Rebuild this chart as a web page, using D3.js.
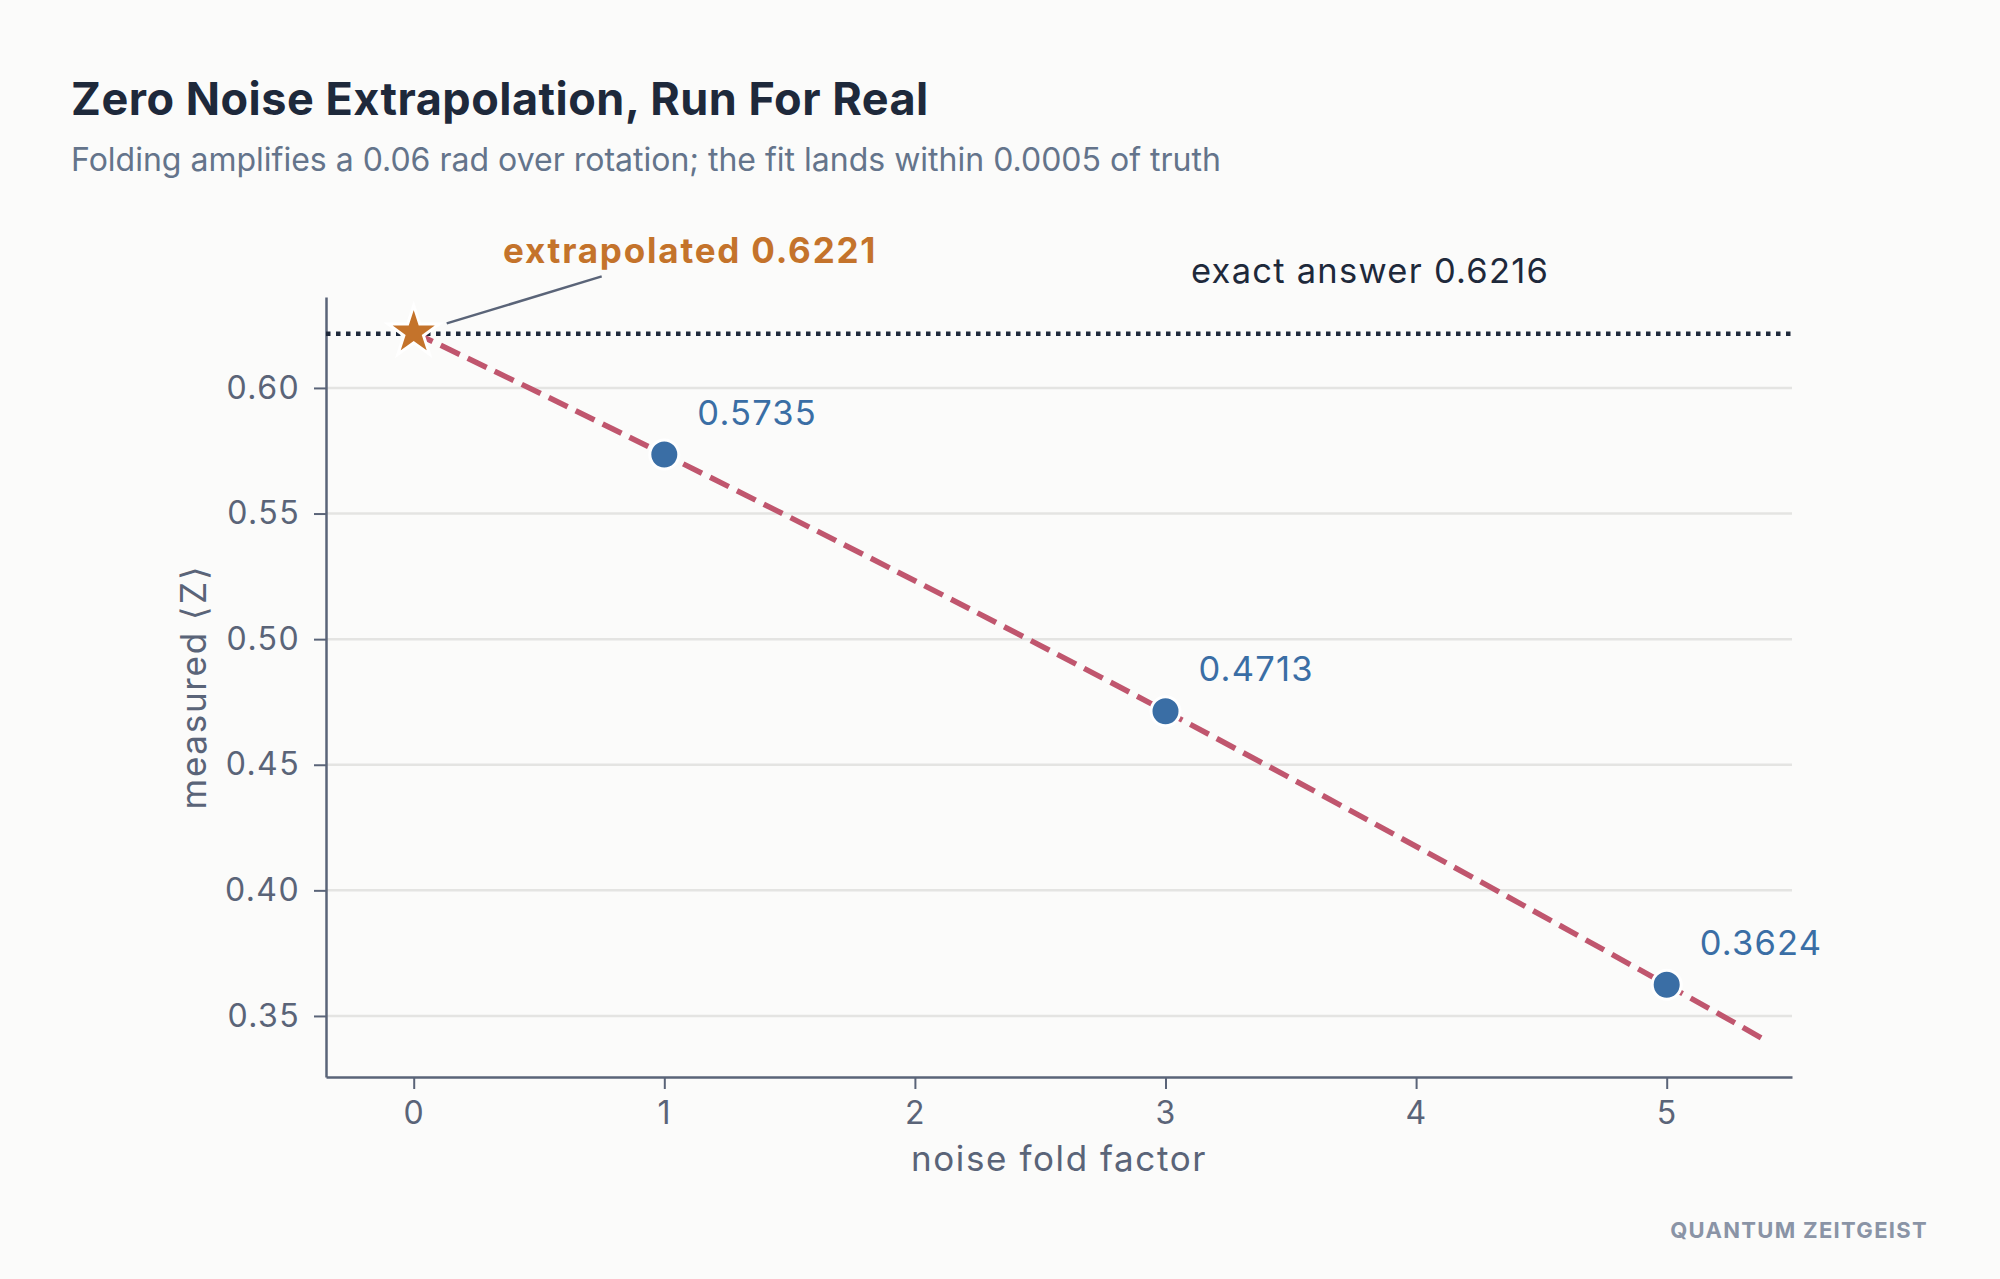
<!DOCTYPE html>
<html>
<head>
<meta charset="utf-8">
<script src="https://cdn.jsdelivr.net/npm/d3@7"></script>
<style>
  html, body { margin: 0; padding: 0; background: #fbfbfa; }
  svg { display: block; font-family: Inter, "Noto Sans", sans-serif; }
</style>
</head>
<body>
<svg id="chart" width="2000" height="1279"></svg>
<script>
// measured points
const foldFactors = [1, 3, 5];
const measured = [0.5735, 0.4713, 0.3624];

// fitted curve (passes through the points)
const fitX = [0, 1, 3, 5, 5.4];
const fitY = [0.6221, 0.5735, 0.4713, 0.3624, 0.3398];

const extrapolated = { x: 0, y: 0.6221 };
const exactAnswer = 0.6216;

const xTicks = [0, 1, 2, 3, 4, 5];
const yTicks = [0.35, 0.40, 0.45, 0.50, 0.55, 0.60];

const svg = d3.select("#chart");
const W = 2000, H = 1279;
const margin = { left: 326, right: 2000 - 1792, top: 297, bottom: 1279 - 1077 };

svg.append("rect").attr("width", W).attr("height", H).attr("fill", "#fbfbfa");

const x = d3.scaleLinear().domain([-0.35, 5.5]).range([margin.left, W - margin.right]);
const y = d3.scaleLinear().domain([0.3257, 0.6362]).range([H - margin.bottom, margin.top]);

const axisColor = "#5a6478";

// title block
svg.append("text")
    .attr("x", 71).attr("y", 115)
    .attr("fill", "#1e293b")
    .style("font-size", "45px")
    .style("font-weight", "700")
    .style("letter-spacing", "0.5px")
    .text("Zero Noise Extrapolation, Run For Real");

svg.append("text")
    .attr("x", 71).attr("y", 171)
    .attr("fill", "#64748b")
    .style("font-size", "32px")
    .text("Folding amplifies a 0.06 rad over rotation; the fit lands within 0.0005 of truth");

// grid
svg.append("g")
    .selectAll("line")
    .data(yTicks)
    .join("line")
    .attr("x1", x.range()[0]).attr("x2", x.range()[1])
    .attr("y1", d => y(d)).attr("y2", d => y(d))
    .attr("stroke", "#e4e4e2")
    .attr("stroke-width", 2.5);

// axes
const xAxis = svg.append("g")
    .attr("transform", `translate(0,${y.range()[0]})`)
    .call(d3.axisBottom(x).tickValues(xTicks).tickFormat(d3.format("d")).tickSize(12).tickPadding(12).tickSizeOuter(0));
const yAxis = svg.append("g")
    .attr("transform", `translate(${x.range()[0]},0)`)
    .call(d3.axisLeft(y).tickValues(yTicks).tickFormat(d3.format(".2f")).tickSize(12).tickPadding(14).tickSizeOuter(0));

[xAxis, yAxis].forEach(g => {
    g.select(".domain").attr("stroke", axisColor).attr("stroke-width", 2.5);
    g.selectAll(".tick line").attr("stroke", axisColor).attr("stroke-width", 2);
    g.selectAll(".tick text")
        .attr("fill", axisColor)
        .style("font-family", "Inter, sans-serif")
        .style("font-size", "32px")
        .style("letter-spacing", "1.4px");
});
xAxis.selectAll(".tick text").attr("dy", "0.71em");

// axis labels
svg.append("text")
    .attr("x", (x.range()[0] + x.range()[1]) / 2).attr("y", 1171)
    .attr("text-anchor", "middle")
    .attr("fill", axisColor)
    .style("font-size", "35px")
    .style("letter-spacing", "1.6px")
    .text("noise fold factor");

svg.append("text")
    .attr("transform", `translate(206,${(y.range()[0] + y.range()[1]) / 2}) rotate(-90)`)
    .attr("text-anchor", "middle")
    .attr("fill", axisColor)
    .style("font-size", "35px")
    .style("letter-spacing", "1.7px")
    .text("measured ⟨Z⟩");

// exact answer reference
svg.append("line")
    .attr("x1", x.range()[0]).attr("x2", x.range()[1])
    .attr("y1", y(exactAnswer)).attr("y2", y(exactAnswer))
    .attr("stroke", "#1e293b")
    .attr("stroke-width", 4.5)
    .attr("stroke-dasharray", "4.5,5.5");

svg.append("text")
    .attr("x", 1191).attr("y", 283)
    .attr("fill", "#1e293b")
    .style("font-size", "34.5px")
    .style("letter-spacing", "1.25px")
    .text(`exact answer ${exactAnswer.toFixed(4)}`);

// fit curve
const fitLine = d3.line()
    .x(d => x(d[0]))
    .y(d => y(d[1]))
    .curve(d3.curveNatural);

svg.append("path")
    .datum(d3.zip(fitX, fitY))
    .attr("d", fitLine)
    .attr("fill", "none")
    .attr("stroke", "#c0566e")
    .attr("stroke-width", 5.5)
    .attr("stroke-dasharray", "21,9");

// measured points + labels
const pts = d3.zip(foldFactors, measured);
svg.append("g")
    .selectAll("circle")
    .data(pts)
    .join("circle")
    .attr("cx", d => x(d[0]))
    .attr("cy", d => y(d[1]))
    .attr("r", 14.5)
    .attr("fill", "#3a6ea5")
    .attr("stroke", "#ffffff")
    .attr("stroke-width", 3);

svg.append("g")
    .selectAll("text")
    .data(pts)
    .join("text")
    .attr("x", d => x(d[0]) + 33)
    .attr("y", d => y(d[1]) - 30)
    .attr("fill", "#3a6ea5")
    .style("font-size", "34.5px")
    .style("letter-spacing", "1.2px")
    .text(d => d[1].toFixed(4));

// extrapolated star + annotation
const sx = x(extrapolated.x), sy = y(extrapolated.y);
svg.append("line")
    .attr("x1", sx + 33).attr("y1", sy - 9)
    .attr("x2", sx + 188).attr("y2", sy - 56)
    .attr("stroke", axisColor)
    .attr("stroke-width", 2.5);

svg.append("path")
    .attr("d", d3.symbol().type(d3.symbolStar).size(820)())
    .attr("transform", `translate(${sx},${sy})`)
    .attr("fill", "#c4732b")
    .attr("stroke", "#ffffff")
    .attr("stroke-width", 3);

svg.append("text")
    .attr("x", 503).attr("y", 263)
    .attr("fill", "#c4732b")
    .style("font-size", "35px")
    .style("font-weight", "700")
    .style("letter-spacing", "1.8px")
    .text(`extrapolated ${extrapolated.y.toFixed(4)}`);

// watermark
svg.append("text")
    .attr("x", 1928).attr("y", 1238)
    .attr("text-anchor", "end")
    .attr("fill", "#8a94a6")
    .style("font-size", "22px")
    .style("font-weight", "700")
    .style("letter-spacing", "1.3px")
    .text("QUANTUM ZEITGEIST");
</script>
</body>
</html>
